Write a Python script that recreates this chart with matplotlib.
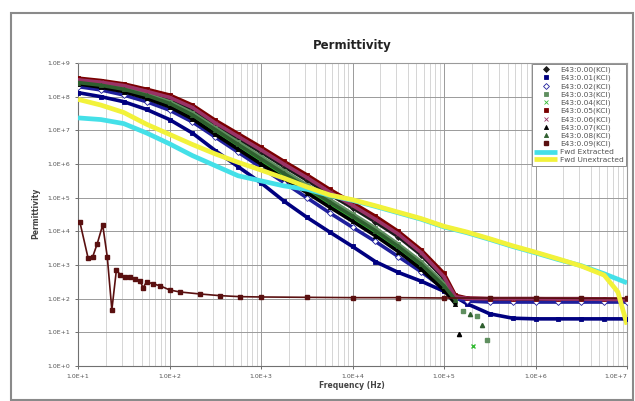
import matplotlib
matplotlib.use("Agg")
import matplotlib.pyplot as plt
import numpy as np
from matplotlib.ticker import FixedLocator, FuncFormatter, LogLocator, NullFormatter
from matplotlib.patches import Rectangle

# log10(frequency) grid for the measured series
log_f = [1.0, 1.25, 1.5, 1.75, 2.0, 2.25, 2.5, 2.75, 3.0, 3.25, 3.5, 3.75, 4.0,
         4.25, 4.5, 4.75, 5.0, 5.125, 5.25, 5.5, 5.75, 6.0, 6.25, 6.5, 6.75, 7.0]
nan = np.nan

# log10(permittivity)
s6 = [8.55, 8.48, 8.38, 8.22, 8.05, 7.75, 7.30, 6.90, 6.50, 6.08, 5.68, 5.25, 4.85,
      4.45, 4.00, 3.45, 2.75, 2.10, 2.02, 2.00, 2.00, 2.00, 2.00, 2.00, 1.99, 1.98]
s7 = [8.50, 8.43, 8.33, 8.16, 7.98, 7.68, 7.22, 6.82, 6.42, 6.00, 5.60, 5.17, 4.77,
      4.36, 3.92, 3.37, 2.65, 2.05, 2.01, 2.00, 2.00, 2.00, 1.99, 1.99, 1.98, 1.97]
s1 = [8.47, 8.40, 8.30, 8.12, 7.93, 7.62, 7.16, 6.75, 6.35, 5.93, 5.52, 5.10, 4.70,
      4.28, 3.84, 3.30, 2.60, 2.03, 1.98, 1.96, 1.96, 1.96, 1.96, 1.96, 1.96, 1.95]
s4 = [8.45, 8.37, 8.25, 8.08, 7.85, 7.52, 7.08, 6.65, 6.22, 5.80, 5.38, 4.95, 4.52,
      4.10, 3.62, 3.10, 2.45, 2.00, nan, nan, nan, nan, nan, nan, nan, nan]
s9 = [8.42, 8.34, 8.22, 8.04, 7.80, 7.46, 7.02, 6.58, 6.15, 5.72, 5.30, 4.87, 4.45,
      4.02, 3.55, 3.02, 2.38, 1.96, nan, nan, nan, nan, nan, nan, nan, nan]
s5 = [8.40, 8.31, 8.19, 8.00, 7.75, 7.40, 6.95, 6.50, 6.07, 5.64, 5.22, 4.80, 4.37,
      3.94, 3.47, 2.95, 2.32, 1.90, nan, nan, nan, nan, nan, nan, nan, nan]
s8 = [8.38, 8.28, 8.15, 7.95, 7.70, 7.34, 6.88, 6.44, 6.00, 5.57, 5.15, 4.72, 4.30,
      3.87, 3.40, 2.88, 2.25, 1.85, nan, nan, nan, nan, nan, nan, nan, nan]
s3 = [8.30, 8.20, 8.05, 7.85, 7.60, 7.25, 6.80, 6.35, 5.90, 5.45, 5.00, 4.55, 4.12,
      3.70, 3.25, 2.80, 2.30, 2.02, 1.93, 1.90, 1.90, 1.90, 1.90, 1.90, 1.90, 1.90]
s2 = [8.12, 8.00, 7.85, 7.62, 7.32, 6.92, 6.40, 5.92, 5.44, 4.90, 4.42, 3.98, 3.55,
      3.10, 2.78, 2.52, 2.22, 2.05, 1.85, 1.55, 1.42, 1.40, 1.40, 1.40, 1.40, 1.40]

# scattered points below the crossover (log f, log eps)
tail4 = ([5.21, 5.36, 5.47], [1.64, 1.49, 0.78])
tail9 = ([5.28, 5.42], [1.55, 1.22])
tail5 = ([5.32], [0.60])
tail8 = ([5.16], [0.96])

# noisy low series
s10_f = [1.02, 1.11, 1.16, 1.21, 1.27, 1.32, 1.37, 1.42, 1.46, 1.51, 1.57, 1.62, 1.68,
         1.71, 1.75, 1.82, 1.90, 2.0, 2.11, 2.33, 2.55, 2.77, 3.0, 3.5, 4.0, 4.5,
         5.0, 5.5, 6.0, 6.5, 7.0]
s10 = [4.28, 3.21, 3.24, 3.63, 4.19, 3.24, 1.67, 2.86, 2.71, 2.65, 2.65, 2.59, 2.53,
       2.32, 2.50, 2.44, 2.38, 2.26, 2.20, 2.14, 2.09, 2.06, 2.05, 2.04, 2.03, 2.03,
       2.02, 2.02, 2.02, 2.01, 2.01]

# model lines
yel_f = [1.0, 1.25, 1.5, 1.75, 2.0, 2.25, 2.5, 2.75, 3.0, 3.25, 3.5, 3.75, 4.0, 4.25,
         4.5, 4.75, 5.0, 5.25, 5.5, 5.75, 6.0, 6.25, 6.5, 6.75, 6.9, 7.0]
yel = [7.92, 7.75, 7.53, 7.18, 6.88, 6.58, 6.30, 6.05, 5.82, 5.58, 5.32, 5.08, 4.94,
       4.76, 4.57, 4.38, 4.15, 3.98, 3.78, 3.57, 3.38, 3.18, 2.97, 2.70, 2.20, 1.23]
cya_f = [1.0, 1.25, 1.5, 1.75, 2.0, 2.25, 2.5, 2.75, 3.0, 3.25, 3.5, 3.75, 4.0, 4.25,
         4.5, 4.75, 5.0, 5.25, 5.5, 5.75, 6.0, 6.25, 6.5, 6.75, 7.0]
cya = [7.37, 7.32, 7.20, 6.92, 6.60, 6.25, 5.95, 5.65, 5.50, 5.35, 5.25, 5.07, 4.92,
       4.74, 4.55, 4.36, 4.13, 3.96, 3.76, 3.55, 3.36, 3.16, 2.98, 2.74, 2.47]

labels = [f"E43:0.0{i}(KCl)" for i in range(10)] + ["Fwd Extracted", "Fwd Unextracted"]

series = [
    # (values, tail, color, marker, face)
    (s1, None, "#1a1a1a", "D", None),
    (s2, None, "#000080", "s", None),
    (s3, None, "#1f1f9c", "D", "white"),
    (s4, tail4, "#5f8f5f", "s", None),
    (s5, tail5, "#33bb33", "x", None),
    (s6, None, "#7a0000", "s", None),
    (s7, None, "#993366", "x", None),
    (s8, tail8, "#000000", "^", None),
    (s9, tail9, "#2f5f2f", "^", None),
    (s10, None, "#5a1010", "s", None),
]


def e_fmt(v, pos):
    return f"1.0E+{int(round(np.log10(v)))}"


def main():
    plt.rcParams.update({"font.family": "DejaVu Sans"})
    fig = plt.figure(figsize=(6.35, 4.01), dpi=100)
    fig.patches.append(Rectangle((11 / 635, 0.002), 622 / 635, 1 - 13 / 401 - 0.002,
                                 transform=fig.transFigure, fill=False,
                                 edgecolor="#8a8a8a", linewidth=1.5))
    ax = fig.add_axes([78 / 635, 35 / 401, 549 / 635, 303 / 401])

    handles = []
    for i, (vals, tail, color, marker, face) in enumerate(series):
        xf = 10 ** np.array(s10_f if i == 9 else log_f)
        yv = 10 ** np.array(vals)
        fc = face if face else color
        if i == 9:
            h, = ax.plot(xf, yv, color=color, lw=1.2, marker=marker, ms=2.6,
                         mfc=fc, mec=color, zorder=3)
        else:
            h, = ax.plot(xf, yv, color=color, lw=2.6, marker=marker, ms=3.0,
                         mfc=fc, mec=color, mew=0.6, zorder=3)
        if tail is not None:
            ax.plot(10 ** np.array(tail[0]), 10 ** np.array(tail[1]), ls="none",
                    marker=marker, ms=3.0, color=color, zorder=3)
        handles.append(h)

    hc, = ax.plot(10 ** np.array(cya_f), 10 ** np.array(cya), color="#44e0e8", lw=3.4,
                  zorder=4, solid_capstyle="butt")
    hy, = ax.plot(10 ** np.array(yel_f), 10 ** np.array(yel), color="#f2f23a", lw=3.4,
                  zorder=5, solid_capstyle="butt")
    handles += [hc, hy]

    ax.set_xscale("log")
    ax.set_yscale("log")
    ax.set_xlim(10, 1e7)
    ax.set_ylim(1, 1e9)
    ax.yaxis.set_major_locator(FixedLocator([10.0 ** k for k in range(0, 10)]))
    ax.yaxis.set_minor_locator(FixedLocator([]))
    ax.xaxis.set_major_locator(FixedLocator([10.0 ** k for k in range(1, 8)]))
    ax.xaxis.set_minor_locator(LogLocator(base=10, subs=np.arange(2, 10)))
    ax.xaxis.set_minor_formatter(NullFormatter())
    ax.xaxis.set_major_formatter(FuncFormatter(e_fmt))
    ax.yaxis.set_major_formatter(FuncFormatter(e_fmt))
    ax.grid(True, which="major", color="#9a9a9a", lw=0.7)
    ax.grid(True, which="minor", axis="x", color="#cfcfcf", lw=0.6)
    ax.set_axisbelow(True)
    ax.tick_params(which="major", length=2.5, width=0.6, labelsize=4.5,
                   colors="#555555", pad=3)
    ax.tick_params(which="minor", length=0)
    for sp in ax.spines.values():
        sp.set_color("#9a9a9a")
        sp.set_linewidth(0.8)
    ax.spines["left"].set_color("#707070")
    ax.spines["bottom"].set_color("#707070")
    # last x label sits right on the chart edge; nudge it inside
    xl = ax.get_xticklabels()
    xl[-1].set_horizontalalignment("right")

    leg = ax.legend(handles, labels, loc="upper right", bbox_to_anchor=(1.0, 1.0),
                    borderaxespad=0.1, fontsize=5.4, labelspacing=0.2,
                    handlelength=3.0, handletextpad=0.4, borderpad=0.35,
                    frameon=True, fancybox=False, framealpha=1, edgecolor="#8a8a8a")
    leg.get_frame().set_linewidth(0.7)
    for t in leg.get_texts():
        t.set_color("#555555")
    for lh in leg.get_lines()[:10]:
        lh.set_linestyle("none")
    leg.set_zorder(10)

    fig.text(352 / 635, 1 - 46 / 401, "Permittivity", ha="center", va="center",
             fontsize=8.5, fontweight="bold", color="#222222")
    fig.text(352 / 635, 1 - 385 / 401, "Frequency (Hz)", ha="center", va="center",
             fontsize=5.5, fontweight="bold", color="#444444")
    fig.text(36 / 635, 1 - 213 / 401, "Permittivity", ha="center", va="center",
             rotation=90, fontsize=5.5, fontweight="bold", color="#444444")

    fig.savefig("out.png", dpi=100)


if __name__ == "__main__":
    main()
